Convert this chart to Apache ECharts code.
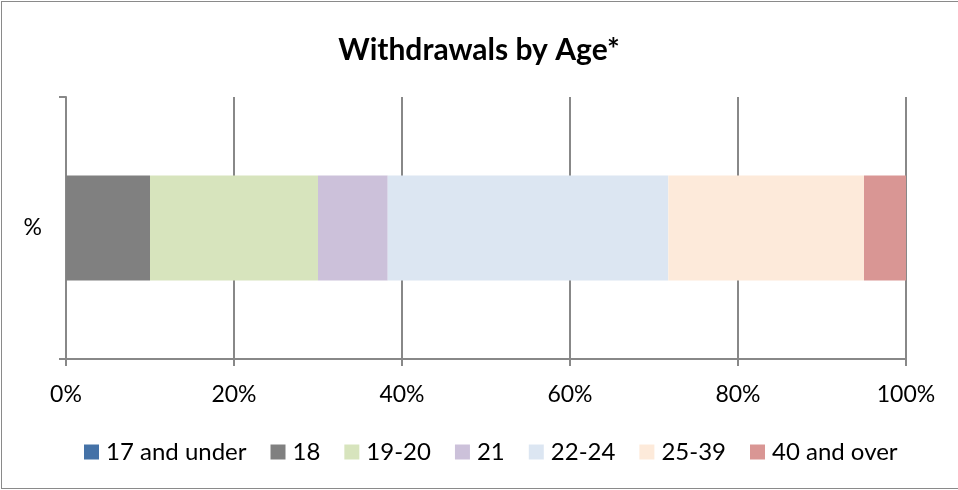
<!DOCTYPE html>
<html>
<head>
<meta charset="utf-8">
<script src="https://cdn.jsdelivr.net/npm/echarts@6/dist/echarts.min.js"></script>
<style>
html,body{margin:0;padding:0;background:#fff;}
#frame{position:absolute;left:1px;top:1px;width:960px;height:488px;border:1px solid #8a8a8a;box-sizing:border-box;}
#chart{position:absolute;left:0;top:0;width:958px;height:490px;}
</style>
</head>
<body>
<div id="frame"></div>
<div id="chart"></div>
<script>
const titleText = 'Withdrawals by Age*';
const categories = ['%'];
const seriesNames = ['17 and under', '18', '19-20', '21', '22-24', '25-39', '40 and over'];
const seriesValues = [[0], [10.0], [20.0], [8.3], [33.4], [23.3], [5.0]];
const seriesColors = ['#4572A7', '#808080', '#D7E4BD', '#CCC1DA', '#DCE6F2', '#FDEADA', '#D99694'];
const xTicks = [0, 20, 40, 60, 80, 100];

const FONT = 'Lato';
const chart = echarts.init(document.getElementById('chart'), null, {renderer: 'canvas'});
const series = seriesNames.map((name, i) => ({
  name: name,
  type: 'bar',
  stack: 'total',
  barWidth: '40%',
  data: seriesValues[i],
  itemStyle: {color: seriesColors[i]},
  emphasis: {disabled: true}
}));
chart.setOption({
  animation: false,
  title: {
    text: titleText,
    left: 'center',
    top: 30,
    textStyle: {fontFamily: FONT, fontSize: 30, fontWeight: 'bold', color: '#000'}
  },
  legend: {
    data: seriesNames,
    left: 79,
    top: 435,
    itemWidth: 15,
    itemHeight: 15,
    itemGap: 24,
    icon: 'rect',
    textStyle: {fontFamily: FONT, fontSize: 24, color: '#000', padding: [0, 0, 0, 2]}
  },
  grid: {left: 66, right: 52, top: 97, bottom: 131, containLabel: false},
  xAxis: {
    type: 'value',
    min: xTicks[0],
    max: xTicks[xTicks.length - 1],
    interval: xTicks[1] - xTicks[0],
    axisLine: {show: true, lineStyle: {color: '#888', width: 2}},
    axisTick: {show: true, length: 7, lineStyle: {color: '#888', width: 2}},
    splitLine: {show: true, lineStyle: {color: '#888', width: 2}},
    axisLabel: {formatter: '{value}%', fontFamily: FONT, fontSize: 23, color: '#000', margin: 24}
  },
  yAxis: {
    type: 'category',
    data: categories,
    axisLine: {show: true, lineStyle: {color: '#888', width: 2}},
    axisTick: {show: true, length: 7, lineStyle: {color: '#888', width: 2}},
    axisLabel: {fontFamily: FONT, fontSize: 23, color: '#000', margin: 24}
  },
  series: series
});
</script>
</body>
</html>
